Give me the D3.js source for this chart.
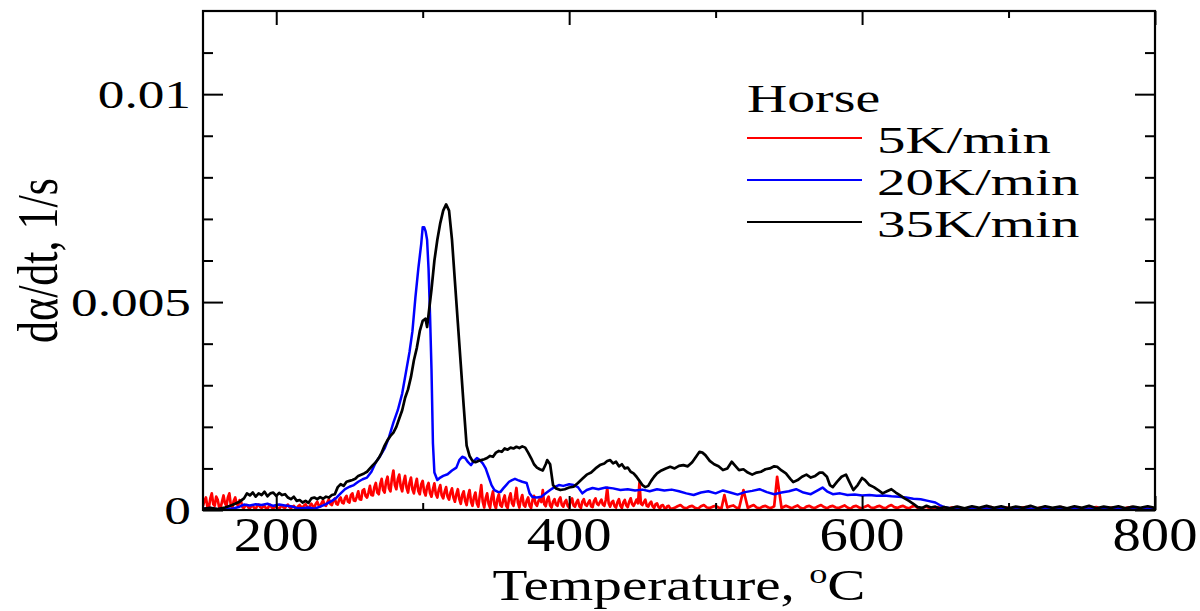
<!DOCTYPE html>
<html><head><meta charset="utf-8">
<script src="https://cdn.jsdelivr.net/npm/d3@7"></script>
<style>
body{margin:0;background:#fff}
svg{display:block}
text{font-family:"Liberation Serif","Times New Roman",Times,serif;fill:#000}
</style>
</head><body>
<svg id="c" width="1200" height="611"></svg>
<script>
// ---------------- data ----------------
const legendTitle = "Horse";
const seriesNames = ["5K/min", "20K/min", "35K/min"];
const seriesColors = ["#ff0000", "#0000ff", "#000000"];
const xDomain = [150, 800];
const yDomain = [0, 0.012];
const xMajorTicks = [200, 400, 600, 800];
const xMinorTicks = [300, 500, 700];
const xTickLabels = ["200", "400", "600", "800"];
const yMajorTicks = [0, 0.005, 0.01];
const yMinorTicks = [0.001,0.002,0.003,0.004,0.006,0.007,0.008,0.009,0.011];
const yTickLabels = ["0", "0.005", "0.01"];
const xTitle = "Temperature, ";
const yTitle = "d\u03B1/dt, 1/s";

// 5 K/min  [temperature °C, dα/dt 1/s]
const red5 = [
[150,.0001],[151,.00022],[152,.0003],[153,.00008],[154,.00005],[155,.00028],[156,.0004],[157,.00014],[158,.0001],[159,.00032],
[160,.00025],[161,.00007],[162,.00005],[163,.0002],[164,.00035],[165,.00016],[166,.0001],[167,.0003],[168,.0004],[169,.00012],
[170,.00005],[171,.00022],[172,.0003],[173,.00015],[174,.0001],[175,.00024],[176,.0002],[177,.00006],[178,.00005],[179,.00011],
[180,.00012],[181,.00006],[182,.00004],[183,.00009],[184,.0001],[185,.00005],[186,.00003],[187,.0001],[188,.00013],[189,.00007],
[190,.00005],[191,.00008],[192,.0001],[193,.00004],[194,.00003],[195,.00009],[196,.00012],[197,.00006],[198,.00004],[199,.00007],
[200,.00009],[201,.00005],[202,.00003],[203,.00008],[204,.00011],[205,.00006],[206,.00005],[207,.0001],[208,.00013],[209,.00007],
[210,.00004],[211,.00008],[212,.0001],[213,.00005],[214,.00003],[215,.00009],[216,.00012],[217,.00007],[218,.00005],[219,.00011],
[220,.00014],[221,.00008],[222,.00004],[223,.0001],[224,.00015],[225,.00009],[226,.00006],[227,.00015],[228,.0002],[229,.00011],
[230,.00008],[231,.00017],[232,.00023],[233,.00012],[234,.0001],[235,.00019],[236,.00026],[237,.00014],[238,.00012],[239,.00022],
[240,.00028],[241,.00015],[242,.00013],[243,.00025],[244,.0003],[245,.00018],[246,.00016],[247,.00029],[248,.00034],[249,.0002],
[250,.00018],[251,.00036],[252,.0004],[253,.00023],[254,.00022],[255,.00032],[256,.00045],[257,.00026],[258,.00025],[259,.00047],
[260,.0005],[261,.00034],[262,.0003],[263,.00042],[264,.00058],[265,.00036],[266,.00035],[267,.00055],[268,.00065],[269,.00042],
[270,.00038],[271,.00062],[272,.00075],[273,.00048],[274,.00042],[275,.00068],[276,.0008],[277,.00052],[278,.00045],[279,.00076],
[280,.00095],[281,.0006],[282,.0005],[283,.00074],[284,.00085],[285,.00056],[286,.00045],[287,.00068],[288,.00082],[289,.00053],
[290,.00042],[291,.00065],[292,.00078],[293,.0005],[294,.0004],[295,.0006],[296,.00075],[297,.00046],[298,.00038],[299,.00062],
[300,.0007],[301,.00044],[302,.00035],[303,.00056],[304,.00065],[305,.00041],[306,.00032],[307,.0005],[308,.00064],[309,.00038],
[310,.0003],[311,.00049],[312,.0006],[313,.00035],[314,.00028],[315,.00044],[316,.00055],[317,.00032],[318,.00025],[319,.00042],
[320,.00052],[321,.0003],[322,.0002],[323,.00038],[324,.0005],[325,.00026],[326,.00015],[327,.00036],[328,.00045],[329,.00022],
[330,.00012],[331,.00034],[332,.00048],[333,.0002],[334,.0001],[335,.00031],[336,.00042],[337,.00016],[338,.00008],[339,.00035],
[340,.0006],[341,.0002],[342,.00006],[343,.00028],[344,.0004],[345,.00015],[346,.00005],[347,.0003],[348,.00045],[349,.00013],
[350,.00004],[351,.00026],[352,.00038],[353,.00012],[354,.00008],[355,.00024],[356,.00035],[357,.0001],[358,.00005],[359,.00028],
[360,.0004],[361,.00016],[362,.0001],[363,.0003],[364,.00053],[365,.00018],[366,.00006],[367,.00025],[368,.00036],[369,.00012],
[370,.00008],[371,.00022],[372,.0003],[373,.0001],[374,.00005],[375,.00024],[376,.00034],[377,.00015],[378,.0001],[379,.00021],
[380,.00028],[381,.00019],[382,.00048],[383,.00014],[384,.00009],[385,.00025],[386,.00032],[387,.00011],[388,.00006],[389,.0002],
[390,.00026],[391,.00013],[392,.0001],[393,.00024],[394,.0003],[395,.00012],[396,.00008],[397,.00019],[398,.00024],[399,.0001],
[400,.00006],[401,.00021],[402,.00028],[403,.00011],[404,.00008],[405,.00018],[406,.00024],[407,.00009],[408,.00005],[409,.0002],
[410,.00026],[411,.00013],[412,.0001],[413,.00017],[414,.00023],[415,.00009],[416,.00007],[417,.00022],[418,.00028],[419,.00015],
[420,.00012],[421,.00019],[422,.00025],[423,.00013],[424,.0001],[425,.00024],[426,.00053],[427,.00016],[428,.00008],[429,.00018],
[430,.00022],[431,.00009],[432,.00006],[433,.00019],[434,.00026],[435,.0001],[436,.00005],[437,.00018],[438,.00024],[439,.00011],
[440,.00007],[441,.0002],[442,.00028],[443,.00014],[444,.0001],[445,.00017],[446,.00025],[447,.00016],[448,.00065],[449,.00015],
[450,.00012],[451,.00019],[452,.00025],[453,.0001],[454,.00008],[455,.00016],[456,.0002],[457,.00009],[458,.00005],[459,.00014],
[460,.00016],[461,.00007],[462,.00004],[463,.00011],[464,.00012],[465,.00005],[466,.00003],[467,.00009],[468,.0001],[469,.00004],
[470,.00003],[472,.00005],[474,.00009],[476,.00012],[478,.00006],[480,.00004],[482,.00008],[484,.0001],[486,.00005],[488,.00003],
[490,.00009],[492,.00012],[494,.00006],[496,.00005],[498,.00008],[500,.0001],[502,.00006],[504,.00004],[506,.00036],[508,.00006],
[510,.00009],[512,.00011],[514,.00006],[516,.00004],[519,.00048],[522,.00005],[524,.00009],[526,.00012],[528,.00006],[530,.00004],
[532,.00008],[534,.0001],[536,.00006],[538,.00005],[540,.00009],[542,.0008],[545,.00005],[548,.0001],[550,.00007],[552,.00004],
[554,.00008],[556,.00011],[558,.00005],[560,.00003],[562,.00008],[564,.0001],[566,.00006],[568,.00005],[570,.00009],[572,.00012],
[574,.00007],[576,.00004],[578,.00008],[580,.0001],[582,.00006],[584,.00005],[586,.00008],[588,.00011],[590,.00006],[592,.00003],
[594,.00008],[596,.0001],[598,.00006],[600,.00004],[602,.00008],[604,.00011],[606,.00006],[608,.00005],[610,.00008],[612,.0001],
[614,.00006],[616,.00004],[618,.00009],[620,.00012],[622,.00007],[624,.00005],[626,.00008],[628,.0001],[630,.00006],[632,.00004],
[634,.00008],[636,.0001],[638,.00005],[640,.00003],[642,.00006],[644,.00008],[646,.00004],[648,.00002],[650,.00005],[652,.00007],
[655,.00003],[658,.00002],[661,.00006],[664,.00007],[667,.00003],[670,.00002],[673,.00005],[676,.00006],[679,.00003],[682,.00002],
[685,.00006],[688,.00007],[691,.00003],[694,.00002],[697,.00005],[700,.00006],[703,.00003],[706,.00002],[709,.00006],[712,.00007],
[715,.00003],[718,.00002],[721,.00005],[724,.00006],[727,.00003],[730,.00002],[733,.00006],[736,.00007],[739,.00003],[742,.00002],
[745,.00005],[748,.00006],[751,.00003],[754,.00002],[757,.00006],[760,.00007],[763,.00003],[766,.00002],[769,.00005],[772,.00006],
[775,.00003],[778,.00002],[781,.00006],[784,.00007],[787,.00003],[790,.00002],[793,.00005],[796,.00006],[800,.00003]
];

// 20 K/min
const blue20 = [
[150,.00003],[155,.00005],[160,.00002],[165,.00004],[170,.00003],[175,.00008],[178,.00013],[182,.00011],[186,.00014],[190,.00012],
[194,.00015],[198,.0001],[202,.00013],[206,.00011],[210,.00009],[214,.00005],[218,.00004],[222,.00006],[226,.00003],[230,.00008],
[234,.00014],[238,.00022],[241,.00029],[244,.0004],[247,.0005],[250,.00056],[253,.0006],[256,.00068],[259,.00074],[262,.00078],
[265,.00092],[268,.00115],[271,.0013],[274,.00148],[277,.00175],[280,.0021],[283,.0024],[286,.0028],[289,.0034],[291,.0038],
[293,.0043],[295,.0051],[297,.0058],[299,.0064],[300,.0068],[301,.0068],[302,.0067],[303,.0065],[304,.0058],[305,.0047],
[306,.0034],[307,.0016],[308,.0009],[310,.00072],[312,.00078],[314,.00082],[317,.00086],[320,.00095],[323,.00102],[325,.0012],
[327,.00128],[329,.00125],[331,.00115],[333,.00108],[335,.00118],[337,.00125],[339,.0012],[341,.00112],[343,.001],[345,.0008],
[347,.0006],[349,.00048],[351,.00044],[353,.00043],[355,.00052],[357,.0006],[359,.00068],[361,.00072],[363,.00075],[365,.00072],
[368,.00068],[371,.00065],[373,.0004],[375,.00031],[378,.0003],[381,.00032],[384,.0004],[387,.00048],[390,.00055],[393,.0006],
[396,.00058],[400,.00062],[403,.0006],[406,.00055],[409,.0004],[412,.00048],[416,.00053],[420,.0005],[425,.00054],[430,.00052],
[435,.00048],[440,.0005],[445,.00047],[450,.00049],[455,.00045],[460,.0005],[465,.00047],[470,.00049],[475,.00045],[480,.0004],
[485,.00036],[490,.00042],[495,.00045],[500,.0004],[505,.00047],[510,.00042],[515,.00037],[520,.00043],[525,.00046],[530,.0005],
[535,.00043],[540,.00038],[545,.00042],[550,.00045],[555,.0005],[560,.00042],[565,.00038],[570,.00048],[573,.00054],[576,.00045],
[580,.00038],[585,.0004],[590,.00036],[595,.00037],[600,.00035],[605,.00036],[610,.00034],[615,.00035],[620,.00033],[625,.00032],
[630,.0003],[635,.00027],[640,.00026],[645,.00022],[650,.00018],[653,.00012],[656,.00007],[660,.00004],[670,.00003],[680,.00004],
[690,.00003],[700,.00004],[720,.00003],[740,.00004],[760,.00003],[780,.00004],[800,.00003]
];

// 35 K/min
const black35 = [
[150,.00003],[155,.00005],[160,.00002],[165,.00006],[170,.00012],[175,.0002],[178,.00028],[180,.0004],[182,.00035],[184,.00042],
[186,.00032],[188,.0004],[190,.00036],[192,.00044],[194,.00033],[196,.0004],[198,.00042],[200,.00034],[202,.00041],[204,.00036],
[206,.00038],[208,.0003],[210,.00026],[212,.00032],[214,.00022],[216,.00024],[218,.00018],[220,.00022],[222,.00017],[224,.00028],
[226,.0003],[228,.00026],[230,.00031],[232,.00027],[234,.00032],[236,.0003],[238,.00036],[240,.00038],[242,.00055],[244,.00062],
[246,.00058],[248,.00068],[250,.0007],[252,.00072],[254,.00075],[256,.00082],[258,.00085],[260,.00088],[262,.00092],[264,.001],
[266,.00108],[268,.00115],[270,.00125],[272,.00138],[274,.00155],[276,.00168],[278,.00178],[280,.00186],[282,.002],[284,.0022],
[286,.0024],[288,.0027],[290,.0029],[292,.0032],[294,.0036],[296,.0039],[298,.0043],[300,.00455],[302,.0046],[303,.0044],
[304,.0047],[306,.0053],[308,.006],[310,.0065],[312,.0069],[314,.0072],[316,.00735],[318,.0072],[320,.0065],[322,.0055],
[324,.0045],[326,.0035],[328,.0025],[330,.00155],[332,.0013],[334,.00118],[336,.00115],[338,.00118],[340,.0012],[342,.00122],
[344,.00125],[346,.0013],[348,.00128],[350,.00138],[352,.00142],[354,.0014],[356,.00148],[358,.00145],[360,.0015],[362,.00148],
[364,.00152],[366,.00149],[368,.00153],[370,.0015],[372,.00138],[374,.00125],[376,.0011],[378,.00102],[380,.00098],[382,.00095],
[384,.0011],[385,.0012],[387,.0011],[389,.0006],[391,.00052],[394,.00048],[397,.0005],[400,.00054],[403,.00056],[406,.00065],
[409,.00075],[412,.00085],[415,.0009],[418,.001],[421,.00108],[424,.00112],[426,.00118],[428,.0012],[430,.00112],[432,.00116],
[434,.00105],[436,.0011],[438,.001],[440,.00102],[442,.00092],[444,.00088],[446,.0008],[448,.0007],[450,.0006],[452,.00055],
[454,.00058],[456,.0007],[458,.0008],[460,.00088],[463,.00095],[466,.001],[469,.00104],[472,.001],[475,.00106],[478,.00108],
[481,.00105],[484,.00115],[487,.0013],[489,.0014],[491,.00138],[493,.00132],[496,.00118],[499,.0011],[502,.00105],[505,.00096],
[508,.001],[511,.00116],[513,.00108],[516,.00096],[519,.00098],[522,.0009],[525,.00085],[528,.0009],[531,.00092],[534,.00098],
[537,.001],[540,.00105],[542,.00104],[545,.00095],[548,.00088],[551,.00075],[553,.00067],[556,.00072],[559,.0008],[562,.00085],
[565,.00078],[568,.00082],[571,.0009],[573,.0009],[576,.0008],[578,.0006],[580,.00055],[583,.00068],[586,.0008],[589,.00085],
[591,.0007],[594,.00048],[597,.0006],[600,.00077],[602,.00072],[605,.0006],[608,.00055],[611,.00048],[614,.0004],[617,.00045],
[620,.0005],[623,.00042],[626,.00035],[629,.00028],[632,.00022],[635,.00015],[638,.00007],[641,.00005],[644,.0001],[647,.00006],
[650,.00008],[653,.00003],[656,.00007],[660,.00004],[665,.00008],[670,.00004],[675,.00009],[680,.00005],[685,.0001],[690,.00005],
[695,.00009],[700,.00004],[705,.00008],[710,.00005],[715,.0001],[720,.00004],[725,.00009],[730,.00005],[735,.00008],[740,.00004],
[745,.00009],[750,.00005],[755,.0001],[760,.00004],[765,.00008],[770,.00005],[775,.00009],[780,.00004],[785,.00008],[790,.00005],
[795,.00009],[800,.00005]
];
const seriesData = [red5, blue20, black35];

// ---------------- drawing ----------------
const svg = d3.select("#c");
const M = {l: 203, r: 1155, t: 11, b: 510};
const x = d3.scaleLinear().domain(xDomain).range([M.l, M.r]);
const y = d3.scaleLinear().domain(yDomain).range([M.b, M.t]);

svg.append("rect").attr("width", 1200).attr("height", 611).attr("fill", "#fff");

svg.append("clipPath").attr("id", "plotclip").append("rect")
  .attr("x", M.l).attr("y", M.t).attr("width", M.r - M.l).attr("height", M.b - M.t);

const line = d3.line().x(d => x(d[0])).y(d => y(d[1]));
const widths = [2.7, 2.5, 2.7];
const plot = svg.append("g").attr("clip-path", "url(#plotclip)");
seriesData.forEach((s, i) => {
  plot.append("path").datum(s).attr("d", line)
    .attr("fill", "none").attr("stroke", seriesColors[i])
    .attr("stroke-width", widths[i]).attr("stroke-linejoin", "round");
});

function tickAxis(axis, tx, ty) {
  const g = svg.append("g").attr("transform", `translate(${tx},${ty})`).call(axis);
  g.select(".domain").remove();
  g.selectAll("text").remove();
  g.selectAll("line").attr("stroke", "#000").attr("stroke-width", 2);
}
tickAxis(d3.axisBottom(x).tickValues(xMajorTicks).tickSize(-14), 0, M.b);
tickAxis(d3.axisBottom(x).tickValues(xMinorTicks).tickSize(-7), 0, M.b);
tickAxis(d3.axisTop(x).tickValues(xMajorTicks).tickSize(-14), 0, M.t);
tickAxis(d3.axisTop(x).tickValues(xMinorTicks).tickSize(-7), 0, M.t);
tickAxis(d3.axisLeft(y).tickValues(yMajorTicks).tickSize(-20), M.l, 0);
tickAxis(d3.axisLeft(y).tickValues(yMinorTicks).tickSize(-10), M.l, 0);
tickAxis(d3.axisRight(y).tickValues(yMajorTicks).tickSize(-20), M.r, 0);
tickAxis(d3.axisRight(y).tickValues(yMinorTicks).tickSize(-10), M.r, 0);

svg.append("rect").attr("x", M.l).attr("y", M.t)
  .attr("width", M.r - M.l).attr("height", M.b - M.t)
  .attr("fill", "none").attr("stroke", "#000").attr("stroke-width", 2.2);

function txt(px, py, s, size, sx, anchor) {
  return svg.append("text")
    .attr("transform", `translate(${px},${py}) scale(${sx},1)`)
    .attr("text-anchor", anchor).attr("font-size", size).text(s);
}

yMajorTicks.forEach((v, i) => txt(191, y(v) + 14, yTickLabels[i], 41, 1.3, "end"));
xMajorTicks.forEach((v, i) => txt(x(v), 551, xTickLabels[i], 48, 1.18, "middle"));

const xt = txt((M.l + M.r) / 2, 600, xTitle, 44, 1.3, "middle");
xt.append("tspan").attr("font-size", 28).attr("dy", -17).text("o");
xt.append("tspan").attr("dy", 17).text("C");

svg.append("text")
  .attr("transform", `translate(57,${(M.t + M.b) / 2}) scale(1.28,1) rotate(-90)`)
  .attr("text-anchor", "middle").attr("font-size", 44).text(yTitle);

// legend
txt(747, 112, legendTitle, 41, 1.36, "start");
const legLineY = [138, 180, 222];
seriesNames.forEach((n, i) => {
  svg.append("line").attr("x1", 747).attr("x2", 862)
    .attr("y1", legLineY[i]).attr("y2", legLineY[i])
    .attr("stroke", seriesColors[i]).attr("stroke-width", 2.2);
  txt(877, legLineY[i] + 15, n, 39, 1.46, "start");
});
</script>
</body></html>
